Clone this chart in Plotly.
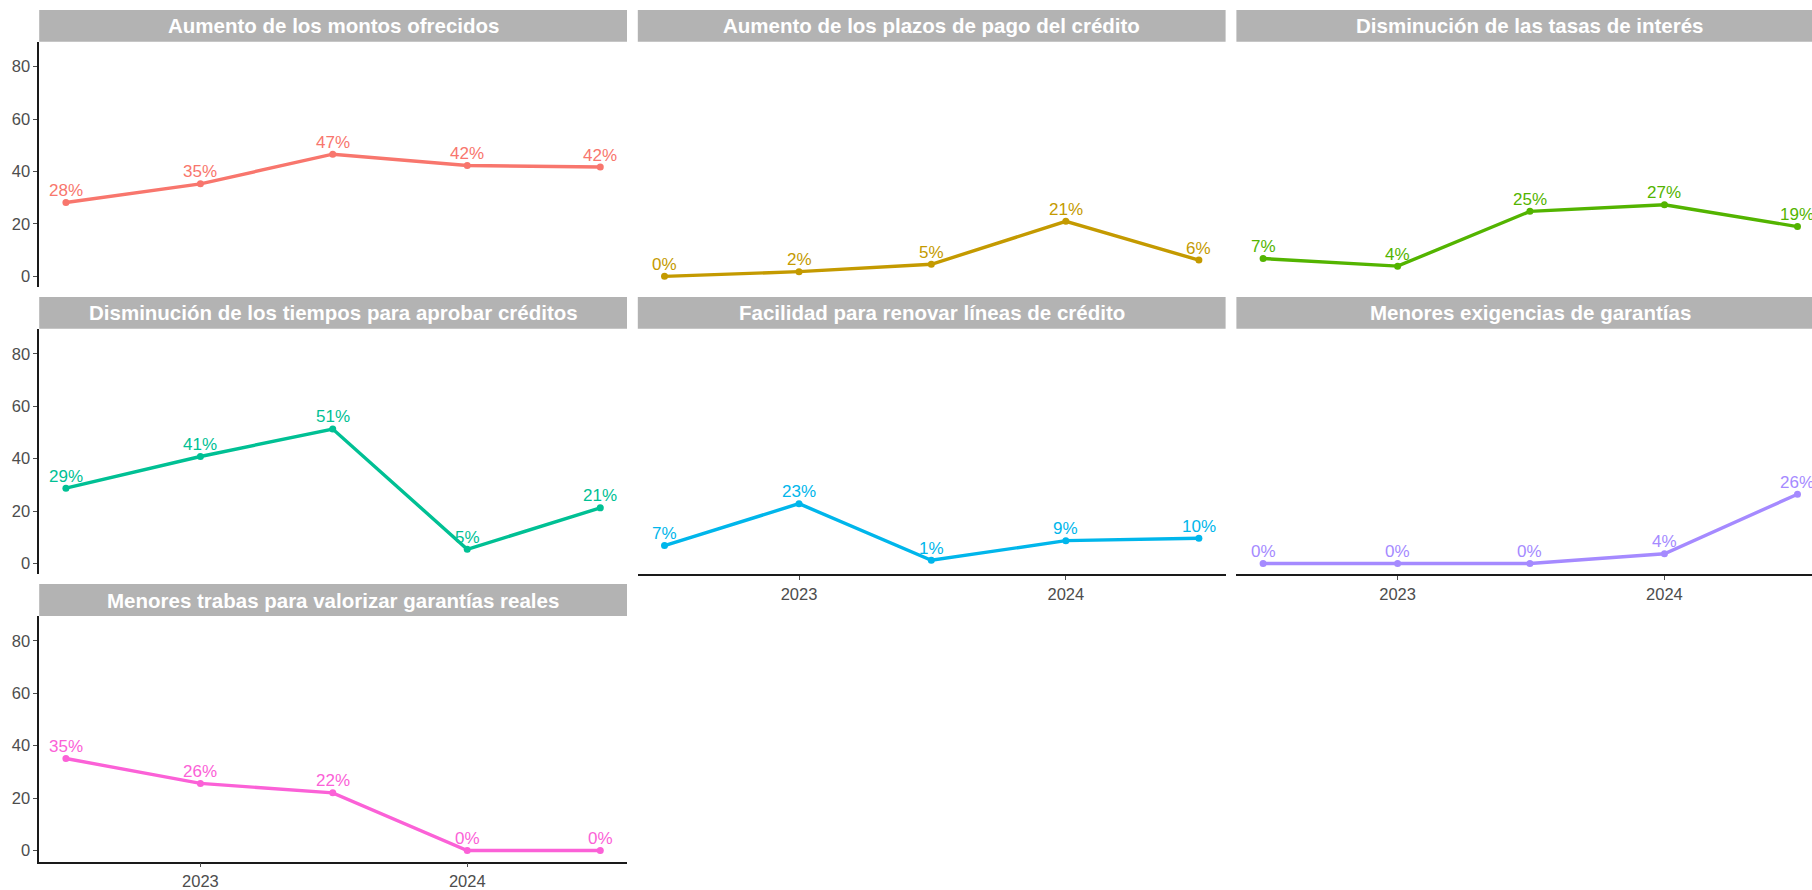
import plotly.graph_objects as go
import pandas as pd

# ---------------- data ----------------
periods = ["2022-07-01", "2023-01-01", "2023-07-01", "2024-01-01", "2024-07-01"]
x_tick_values = ["2023-01-01", "2024-01-01"]
x_tick_labels = ["2023", "2024"]
y_tick_values = [0, 20, 40, 60, 80]

panel_titles = [
    "Aumento de los montos ofrecidos",
    "Aumento de los plazos de pago del crédito",
    "Disminución de las tasas de interés",
    "Disminución de los tiempos para aprobar créditos",
    "Facilidad para renovar líneas de crédito",
    "Menores exigencias de garantías",
    "Menores trabas para valorizar garantías reales",
]

aumento_montos = [28.2, 35.3, 46.6, 42.3, 41.7]
aumento_plazos = [0.0, 1.8, 4.6, 21.0, 6.2]
disminucion_tasas = [6.8, 3.9, 24.8, 27.3, 19.0]
disminucion_tiempos = [28.7, 40.8, 51.3, 5.4, 21.2]
facilidad_renovar = [6.8, 22.8, 1.2, 8.7, 9.6]
menores_exigencias = [0.0, 0.0, 0.0, 3.7, 26.4]
menores_trabas = [35.1, 25.6, 22.0, 0.0, 0.0]

series_values = [
    aumento_montos, aumento_plazos, disminucion_tasas, disminucion_tiempos,
    facilidad_renovar, menores_exigencias, menores_trabas,
]
series_colors = ["#F8766D", "#C49A00", "#53B400", "#00C094", "#00B6EB", "#A58AFF", "#FB61D7"]

# ---------------- layout geometry (pixels) ----------------
W, H = 1812, 890
col_left = [39.2, 637.8, 1236.4]
panel_w = 587.8
row_top = [42.0, 330.7, 619.4]
panel_h = 247.0
strip_h = 32.0
y_range = [-4.2, 89.5]

FONT = "Liberation Sans, Arial, sans-serif"

t0 = pd.Timestamp(periods[0])
t1 = pd.Timestamp(periods[-1])
span = t1 - t0
x_lo = t0 - span * 0.05
x_hi = t1 + span * 0.05

fig = go.Figure()
shapes = []
annotations = []
bottom_panels = {4, 5, 6}

for i, (title, vals, color) in enumerate(zip(panel_titles, series_values, series_colors)):
    r, c = divmod(i, 3)
    left = col_left[c]
    right_full = left + panel_w
    right = min(right_full, W)
    frac = (right - left) / panel_w
    hi = x_lo + (x_hi - x_lo) * frac
    top = row_top[r]
    bottom = top + panel_h

    xa = "xaxis" if i == 0 else f"xaxis{i+1}"
    ya = "yaxis" if i == 0 else f"yaxis{i+1}"
    xref = "x" if i == 0 else f"x{i+1}"
    yref = "y" if i == 0 else f"y{i+1}"

    show_y = (c == 0)
    show_x = (i in bottom_panels)

    fig.layout[xa] = dict(
        domain=[left / W, right / W],
        anchor=yref,
        type="date",
        range=[x_lo.isoformat(), hi.isoformat()],
        tickvals=x_tick_values,
        ticktext=x_tick_labels,
        showgrid=False,
        zeroline=False,
        showline=show_x,
        linecolor="#1a1a1a",
        linewidth=1.6,
        ticks="outside" if show_x else "",
        ticklen=4,
        tickwidth=1,
        tickcolor="#4D4D4D",
        showticklabels=show_x,
        tickfont=dict(family=FONT, size=16.5, color="#4D4D4D"),
        fixedrange=True,
    )
    fig.layout[ya] = dict(
        domain=[1 - bottom / H, 1 - top / H],
        anchor=xref,
        range=y_range,
        tickvals=y_tick_values,
        showgrid=False,
        zeroline=False,
        showline=show_y,
        linecolor="#1a1a1a",
        linewidth=1.6,
        ticks="outside" if show_y else "",
        ticklen=4,
        tickwidth=1,
        tickcolor="#4D4D4D",
        showticklabels=show_y,
        tickfont=dict(family=FONT, size=16.5, color="#4D4D4D"),
        fixedrange=True,
    )

    fig.add_trace(go.Scatter(
        x=periods,
        y=vals,
        xaxis=xref,
        yaxis=yref,
        mode="lines+markers",
        line=dict(color=color, width=3.4),
        marker=dict(color=color, size=7),
        cliponaxis=False,
        showlegend=False,
        hoverinfo="skip",
    ))

    # value labels above each point
    for p, v in zip(periods, vals):
        annotations.append(dict(
            xref=xref, yref=yref, x=p, y=v,
            text=f"{round(v)}%", showarrow=False,
            xanchor="center", yanchor="middle", yshift=12,
            font=dict(family=FONT, size=17, color=color),
        ))

    # strip
    shapes.append(dict(
        type="rect", xref="paper", yref="paper",
        x0=left / W, x1=right / W,
        y0=1 - top / H, y1=1 - (top - strip_h) / H,
        fillcolor="#B3B3B3", line=dict(width=0), layer="below",
    ))
    annotations.append(dict(
        xref="paper", yref="paper",
        x=(left + panel_w / 2) / W, y=1 - (top - strip_h / 2) / H,
        text=title, showarrow=False,
        xanchor="center", yanchor="middle",
        font=dict(family=FONT, size=20.5, color="white", weight="bold"),
    ))

fig.update_layout(
    width=W, height=H, autosize=False,
    margin=dict(l=0, r=0, t=0, b=0),
    paper_bgcolor="white", plot_bgcolor="white",
    shapes=shapes, annotations=annotations,
    showlegend=False,
)

fig.write_html(
    "out.html",
    config={"displayModeBar": False},
    post_script="document.body.style.margin='0';document.body.style.overflow='hidden';",
)
